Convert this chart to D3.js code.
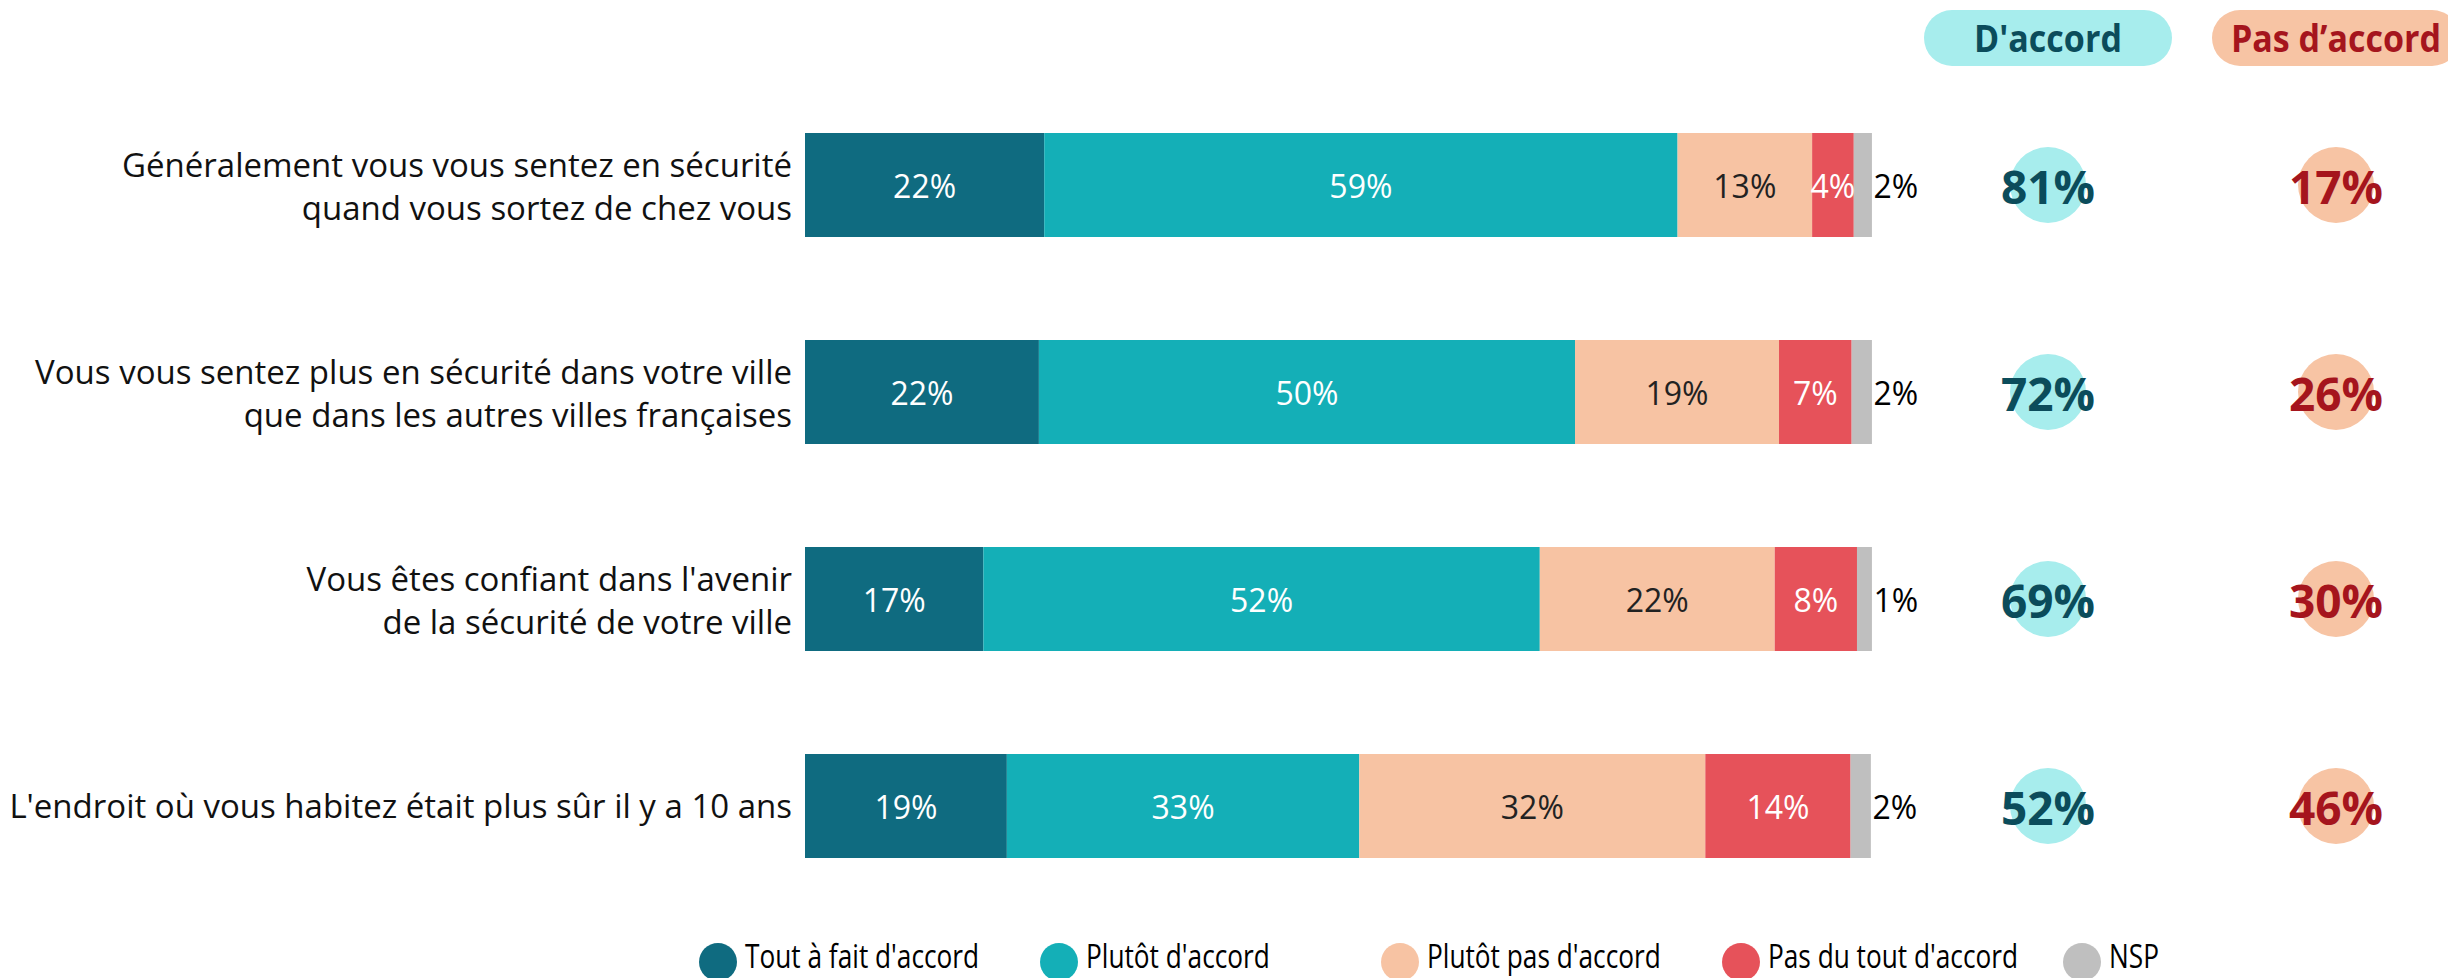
<!DOCTYPE html>
<html>
<head>
<meta charset="utf-8">
<script src="https://cdn.jsdelivr.net/npm/d3@7"></script>
<style>
  body { margin: 0; background: #fff; }
  svg { display: block; font-family: "Open Sans", sans-serif; }
</style>
</head>
<body>
<svg id="chart" width="2448" height="978"></svg>
<script>
// questions, one row each (lines split for the label)
var questions = [
  ["Généralement vous vous sentez en sécurité", "quand vous sortez de chez vous"],
  ["Vous vous sentez plus en sécurité dans votre ville", "que dans les autres villes françaises"],
  ["Vous êtes confiant dans l'avenir", "de la sécurité de votre ville"],
  ["L'endroit où vous habitez était plus sûr il y a 10 ans"]
];
var categories = ["Tout à fait d'accord", "Plutôt d'accord", "Plutôt pas d'accord", "Pas du tout d'accord", "NSP"];
// segment widths (labels show them rounded)
var toutAFait = [22.4, 21.9, 16.7, 18.9];
var plutot = [59.3, 50.2, 52.1, 33.0];
var plutotPas = [12.6, 19.1, 22.0, 32.4];
var pasDuTout = [3.9, 6.8, 7.7, 13.6];
var nsp = [1.7, 1.9, 1.4, 1.9];
var totalAccord = [81, 72, 69, 52];
var totalPasAccord = [17, 26, 30, 46];
var headers = ["D'accord", "Pas d\u2019accord"];

var colors = ["#0f6b80", "#14afb7", "#f7c3a3", "#e6525a", "#bfbfbf"];
var labelColors = ["#fff", "#fff", "#222", "#fff", "#000"];

var svg = d3.select("#chart");

var rows = questions.map(function(q, i) {
  return { q: q, vals: [toutAFait[i], plutot[i], plutotPas[i], pasDuTout[i], nsp[i]] };
});

var x = d3.scaleLinear().domain([0, 100]).range([805, 1873]);
var y = d3.scalePoint().domain(d3.range(rows.length)).range([185, 806]);
var barH = 104;

var row = svg.selectAll("g.row")
  .data(rows)
  .enter()
  .append("g")
  .attr("class", "row")
  .attr("transform", function(d, i) { return "translate(0," + y(i) + ")"; });

// question labels
row.each(function(d) {
  var g = d3.select(this);
  var n = d.q.length;
  d.q.forEach(function(line, j) {
    var dy = n == 1 ? 12 : (j == 0 ? -8 : 35);
    g.append("text")
      .attr("x", 792)
      .attr("y", dy)
      .attr("text-anchor", "end")
      .style("font-size", "33px")
      .style("fill", "#111")
      .text(line);
  });
});

// stacked segments
row.each(function(d) {
  var g = d3.select(this);
  var segs = [];
  var acc = 0;
  d.vals.forEach(function(v, k) {
    segs.push({ k: k, v: v, x0: acc, x1: acc + v });
    acc += v;
  });
  g.selectAll("rect")
    .data(segs)
    .enter()
    .append("rect")
    .attr("x", function(s) { return x(s.x0); })
    .attr("width", function(s) { return x(s.x1) - x(s.x0); })
    .attr("y", -barH / 2)
    .attr("height", barH)
    .style("fill", function(s) { return colors[s.k]; });

  g.selectAll("text.val")
    .data(segs)
    .enter()
    .append("text")
    .attr("class", "val")
    .attr("x", function(s) { return s.k == 4 ? x(s.x1) + 24 : x((s.x0 + s.x1) / 2); })
    .attr("y", 13)
    .attr("text-anchor", "middle")
    .style("font-size", "32px")
    .style("fill", function(s) { return labelColors[s.k]; })
    .text(function(s) { return Math.round(s.v) + "%"; });
});

// totals columns
var colX = [2048, 2336];
var bubbleFill = ["#a7eded", "#f7c4a4"];
var numColor = ["#0b4c5b", "#a5151d"];

svg.selectAll("rect.pill")
  .data(headers)
  .enter()
  .append("rect")
  .attr("class", "pill")
  .attr("x", function(d, i) { return colX[i] - 124; })
  .attr("y", 10)
  .attr("width", 248)
  .attr("height", 56)
  .attr("rx", 28)
  .style("fill", function(d, i) { return bubbleFill[i]; });

svg.selectAll("text.head")
  .data(headers)
  .enter()
  .append("text")
  .attr("class", "head")
  .attr("transform", function(d, i) { return "translate(" + colX[i] + ",52) scale(0.92,1)"; })
  .attr("text-anchor", "middle")
  .style("font-size", "37px")
  .style("font-weight", "bold")
  .style("fill", function(d, i) { return numColor[i]; })
  .text(function(d) { return d; });

[totalAccord, totalPasAccord].forEach(function(arr, c) {
  var g = svg.append("g");
  g.selectAll("circle")
    .data(arr)
    .enter()
    .append("circle")
    .attr("cx", colX[c])
    .attr("cy", function(d, i) { return y(i); })
    .attr("r", 38)
    .style("fill", bubbleFill[c]);
  g.selectAll("text")
    .data(arr)
    .enter()
    .append("text")
    .attr("x", colX[c])
    .attr("y", function(d, i) { return y(i) + 19; })
    .attr("text-anchor", "middle")
    .style("font-size", "46px")
    .style("font-weight", "bold")
    .style("fill", numColor[c])
    .text(function(d) { return d + "%"; });
});

// legend
var legend = svg.selectAll("g.leg")
  .data(categories)
  .enter()
  .append("g")
  .attr("class", "leg")
  .attr("transform", function(d, i) { return "translate(" + (718 + i * 341) + ",962)"; });

legend.append("circle")
  .attr("r", 19)
  .style("fill", function(d, i) { return colors[i]; });

legend.append("text")
  .attr("transform", "translate(27,6) scale(0.82,1)")
  .style("font-size", "32px")
  .style("fill", "#000")
  .text(function(d) { return d; });
</script>
</body>
</html>
